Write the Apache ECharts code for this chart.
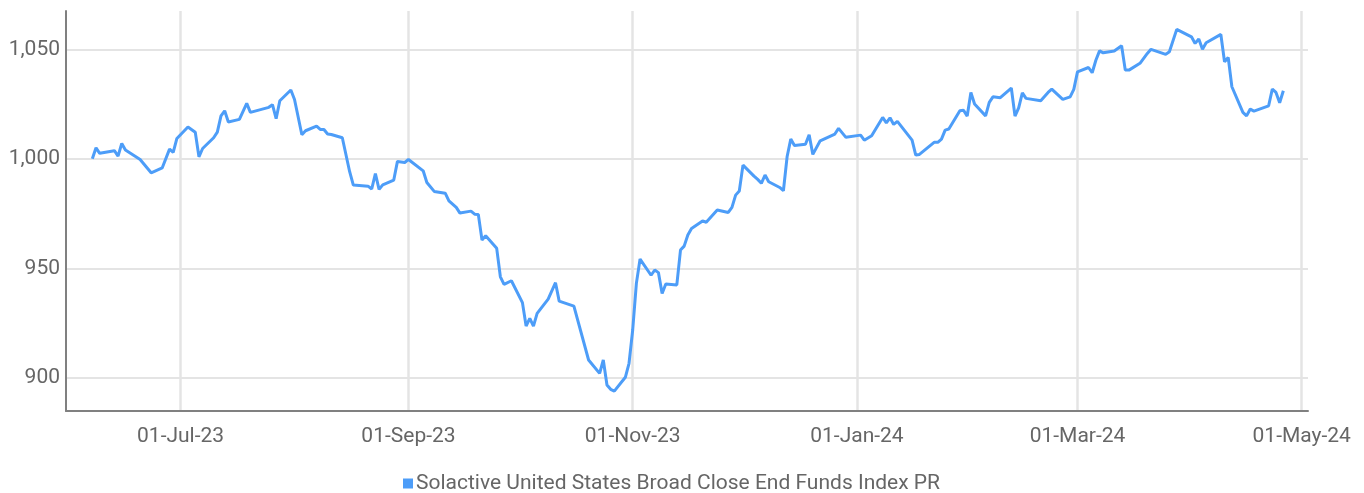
<!DOCTYPE html>
<html>
<head>
<meta charset="utf-8">
<script src="https://cdn.jsdelivr.net/npm/echarts@6/dist/echarts.min.js"></script>
<style>
  html, body { margin: 0; padding: 0; background: #fff; }
  #chart { width: 1364px; height: 493px; }
</style>
</head>
<body>
<div id="chart"></div>
<script>
// values
var seriesName = 'Solactive United States Broad Close End Funds Index PR';
var dates = [
  '2023-06-07','2023-06-08','2023-06-09','2023-06-13','2023-06-14','2023-06-15','2023-06-16','2023-06-20','2023-06-23','2023-06-26',
  '2023-06-28','2023-06-29','2023-06-30','2023-07-03','2023-07-05','2023-07-06','2023-07-07','2023-07-10','2023-07-11','2023-07-12',
  '2023-07-13','2023-07-14','2023-07-17','2023-07-19','2023-07-20','2023-07-25','2023-07-26','2023-07-27','2023-07-28','2023-07-31',
  '2023-08-01','2023-08-03','2023-08-04','2023-08-07','2023-08-08','2023-08-09','2023-08-10','2023-08-11','2023-08-14','2023-08-16',
  '2023-08-17','2023-08-21','2023-08-22','2023-08-23','2023-08-24','2023-08-25','2023-08-28','2023-08-29','2023-08-31','2023-09-01',
  '2023-09-05','2023-09-06','2023-09-08','2023-09-11','2023-09-12','2023-09-14','2023-09-15','2023-09-18','2023-09-19','2023-09-20',
  '2023-09-21','2023-09-22','2023-09-25','2023-09-26','2023-09-27','2023-09-29','2023-10-02','2023-10-03','2023-10-04','2023-10-05',
  '2023-10-06','2023-10-09','2023-10-11','2023-10-12','2023-10-16','2023-10-20','2023-10-23','2023-10-24','2023-10-25','2023-10-26',
  '2023-10-27','2023-10-30','2023-10-31','2023-11-01','2023-11-02','2023-11-03','2023-11-06','2023-11-07','2023-11-08','2023-11-09',
  '2023-11-10','2023-11-13','2023-11-14','2023-11-15','2023-11-16','2023-11-17','2023-11-20','2023-11-21','2023-11-24','2023-11-27',
  '2023-11-28','2023-11-29','2023-11-30','2023-12-01','2023-12-04','2023-12-05','2023-12-06','2023-12-07','2023-12-08','2023-12-11',
  '2023-12-12','2023-12-13','2023-12-14','2023-12-15','2023-12-18','2023-12-19','2023-12-20','2023-12-22','2023-12-26','2023-12-27',
  '2023-12-29','2024-01-02','2024-01-03','2024-01-05','2024-01-08','2024-01-09','2024-01-10','2024-01-11','2024-01-12','2024-01-16',
  '2024-01-17','2024-01-18','2024-01-22','2024-01-23','2024-01-24','2024-01-25','2024-01-26','2024-01-29','2024-01-30','2024-01-31',
  '2024-02-01','2024-02-02','2024-02-05','2024-02-06','2024-02-07','2024-02-09','2024-02-12','2024-02-13','2024-02-14','2024-02-15',
  '2024-02-16','2024-02-20','2024-02-22','2024-02-23','2024-02-26','2024-02-28','2024-02-29','2024-03-01','2024-03-04','2024-03-05',
  '2024-03-06','2024-03-07','2024-03-08','2024-03-11','2024-03-13','2024-03-14','2024-03-15','2024-03-18','2024-03-20','2024-03-21',
  '2024-03-25','2024-03-26','2024-03-28','2024-04-01','2024-04-02','2024-04-03','2024-04-04','2024-04-05','2024-04-09','2024-04-10',
  '2024-04-11','2024-04-12','2024-04-15','2024-04-16','2024-04-17','2024-04-18','2024-04-22','2024-04-23','2024-04-24','2024-04-25',
  '2024-04-26'
];
var values = [
  1000.0,1005.0,1002.5,1003.7,1001.2,1007.0,1004.0,999.7,993.6,995.8,
  1004.4,1002.9,1009.3,1014.5,1012.1,1000.9,1004.7,1009.6,1012.2,1019.6,
  1021.9,1016.8,1018.0,1025.3,1021.2,1023.5,1024.7,1018.3,1026.5,1031.4,
  1027.1,1011.0,1012.8,1014.9,1013.4,1013.4,1011.3,1011.1,1009.6,994.1,
  988.0,987.5,986.2,993.2,986.0,988.1,990.3,998.8,998.3,999.7,
  994.5,989.2,985.1,984.3,980.8,977.8,975.2,976.1,974.7,974.6,
  962.9,964.8,959.1,946.1,942.6,944.3,934.3,923.6,927.1,923.6,
  929.4,935.9,943.4,935.0,932.7,908.1,902.0,908.1,896.7,894.7,
  893.9,900.2,906.6,921.8,943.1,954.2,946.8,949.2,948.0,938.5,
  942.8,942.4,958.3,960.1,965.2,968.2,971.6,971.0,976.6,975.5,
  977.8,983.4,985.3,997.1,992.1,990.6,988.8,992.6,989.5,986.9,
  985.4,1000.9,1009.0,1006.1,1006.6,1011.0,1002.0,1008.2,1011.3,1013.9,
  1009.8,1010.8,1008.5,1010.5,1018.9,1016.4,1018.7,1015.7,1017.1,1008.5,
  1001.7,1002.0,1007.5,1007.5,1009.0,1013.1,1013.6,1021.9,1022.2,1019.5,
  1030.3,1025.0,1019.6,1025.8,1028.3,1027.9,1032.3,1019.5,1023.3,1030.1,
  1027.6,1026.5,1030.3,1031.8,1027.1,1028.3,1031.7,1039.7,1041.7,1039.3,
  1045.0,1049.3,1048.4,1049.2,1051.6,1040.5,1040.5,1043.6,1048.1,1050.0,
  1047.7,1048.9,1059.1,1055.7,1052.7,1054.7,1050.0,1053.0,1056.8,1044.3,
  1046.3,1032.9,1021.2,1019.6,1022.7,1021.8,1024.2,1031.8,1030.3,1025.6,
  1031.1
];
var xTickDates = ['2023-07-01','2023-09-01','2023-11-01','2024-01-01','2024-03-01','2024-05-01'];
var yTicks = [900, 950, 1000, 1050];

var months = ['Jan','Feb','Mar','Apr','May','Jun','Jul','Aug','Sep','Oct','Nov','Dec'];
function fmtDate(v) {
    var d = new Date(v);
    var dd = ('0' + d.getUTCDate()).slice(-2);
    return dd + '-' + months[d.getUTCMonth()] + '-' + String(d.getUTCFullYear()).slice(-2);
}

var points = dates.map(function (d, i) { return [Date.parse(d), values[i]]; });
var xTicks = xTickDates.map(function (d) { return Date.parse(d); });

var labelFont = "Roboto, sans-serif";
var myChart = echarts.init(document.getElementById('chart'));
var option = {
    animation: false,
    grid: { left: 66, right: 56, top: 11, bottom: 82 },
    xAxis: {
        type: 'value',
        min: Date.UTC(2023, 4, 30, 20),
        max: Date.UTC(2024, 4, 2, 17),
        axisLine: { lineStyle: { color: '#808080', width: 2 } },
        axisTick: { show: false, customValues: xTicks },
        axisLabel: {
            customValues: xTicks,
            formatter: fmtDate,
            color: '#666',
            fontSize: 21,
            fontFamily: labelFont,
            margin: 15
        },
        splitLine: { show: true, lineStyle: { color: '#e4e4e4', width: 2.5 } }
    },
    yAxis: {
        type: 'value',
        min: 884.8,
        max: 1067.5,
        axisLine: { show: true, lineStyle: { color: '#808080', width: 2 } },
        axisTick: { show: false, customValues: yTicks },
        axisLabel: {
            customValues: yTicks,
            formatter: function (v) { return v.toLocaleString('en-US'); },
            color: '#666',
            fontSize: 21,
            fontFamily: labelFont,
            margin: 6
        },
        splitLine: { show: true, lineStyle: { color: '#e4e4e4', width: 2 } }
    },
    legend: {
        data: [seriesName],
        left: 398,
        top: 468,
        icon: 'rect',
        itemWidth: 10,
        itemHeight: 10,
        itemGap: 10,
        textStyle: { color: '#666', fontSize: 21, fontFamily: labelFont, padding: [0, 0, 0, -2] }
    },
    series: [{
        name: seriesName,
        type: 'line',
        showSymbol: false,
        color: '#4d9df8',
        lineStyle: { width: 3 },
        data: points
    }]
};
myChart.setOption(option);
</script>
</body>
</html>
